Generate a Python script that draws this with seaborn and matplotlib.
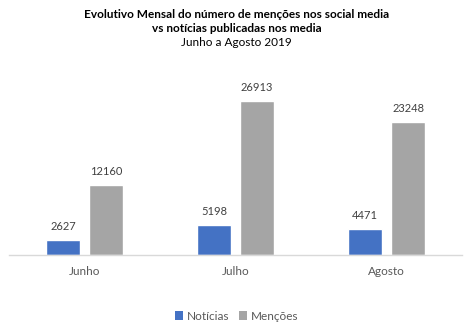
import matplotlib
matplotlib.use("Agg")
import matplotlib.pyplot as plt
import seaborn as sns
import pandas as pd

months = ["Junho", "Julho", "Agosto"]
noticias = [2627, 5198, 4471]
mencoes = [12160, 26913, 23248]
series_names = ["Notícias", "Menções"]
colors = ["#4472C4", "#A5A5A5"]

df = pd.DataFrame({
    "Mês": months * 2,
    "Valor": noticias + mencoes,
    "Série": [series_names[0]] * 3 + [series_names[1]] * 3,
})

sns.set_theme(style="white")
plt.rcParams["font.family"] = ["Lato", "DejaVu Sans"]

fig = plt.figure(figsize=(4.73, 3.34), dpi=100)
ax = fig.add_axes([9 / 473, (334 - 255) / 334, 453 / 473, 171.6 / 334])

sns.barplot(data=df, x="Mês", y="Valor", hue="Série", palette=colors,
            width=0.57, gap=0.22, ax=ax, legend=False, saturation=1)

ax.set_ylim(0, 30000)
ax.set_xlim(-0.5, 2.5)
for c in ax.containers:
    ax.bar_label(c, labels=[f"{int(v)}" for v in c.datavalues], padding=6,
                 fontsize=8, color="#404040")

ax.set_xlabel("")
ax.set_ylabel("")
ax.set_yticks([])
ax.tick_params(axis="x", length=0, labelsize=8.5, labelcolor="#595959", pad=8)
for s in ["top", "left", "right"]:
    ax.spines[s].set_visible(False)
ax.spines["bottom"].set_color("#D9D9D9")
ax.spines["bottom"].set_linewidth(1)

fig.text(0.5, 1 - 15 / 334, "Evolutivo Mensal do número de menções nos social media",
         ha="center", va="center", fontsize=8.5, fontweight="bold", color="#000000")
fig.text(0.5, 1 - 29 / 334, "vs notícias publicadas nos media",
         ha="center", va="center", fontsize=8.5, fontweight="bold", color="#000000")
fig.text(0.5, 1 - 43 / 334, "Junho a Agosto 2019",
         ha="center", va="center", fontsize=8.5, color="#000000")

from matplotlib.patches import Patch
handles = [Patch(facecolor=col, edgecolor="none") for col in colors]
fig.legend(handles, series_names, loc="center", bbox_to_anchor=(0.5, 1 - 316 / 334),
           ncol=2, frameon=False, fontsize=8.5, handlelength=0.7, handleheight=0.7,
           handletextpad=0.3, columnspacing=0.8, labelcolor="#595959")

fig.savefig("out.png", dpi=100)
